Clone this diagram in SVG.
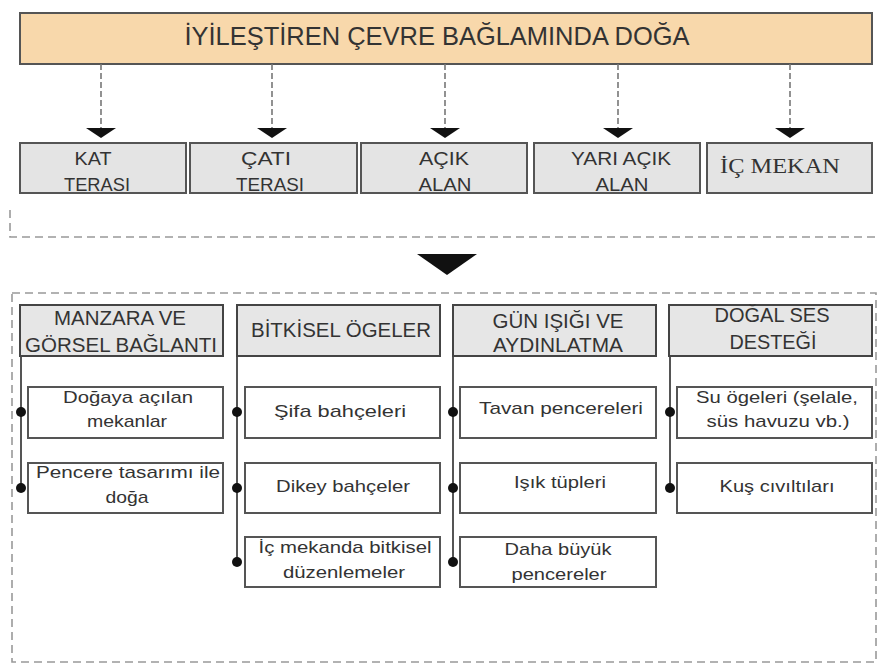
<svg xmlns="http://www.w3.org/2000/svg" width="878" height="666" viewBox="0 0 878 666">
<defs>
<style>
text{font-family:"Liberation Sans",Arial,sans-serif;fill:#333;text-anchor:middle}
.title{font-size:25px}
.cat{font-size:18px}
.hd{font-size:20px}
.ch{font-size:17px}
.serif{font-family:"Liberation Serif","Times New Roman",serif;font-size:22px}
.catbox{fill:#e4e4e4;stroke:#555;stroke-width:2}
.hdbox{fill:#e6e6e6;stroke:#444;stroke-width:2}
.chbox{fill:#fff;stroke:#555;stroke-width:2}
.dash{fill:none;stroke:#777;stroke-width:1.6;stroke-dasharray:6 3}
.frame{fill:none;stroke:#999;stroke-width:1.6;stroke-dasharray:8 5}
.vl{stroke:#555;stroke-width:2}
.dot{fill:#111}
.ah{fill:#111}
</style>
</defs>
<rect width="878" height="666" fill="#fff"/>

<g id="frames">
<path class="frame" d="M10,210 V237 H878"/>
<rect class="frame" x="12" y="293" width="864" height="369"/>
</g>

<g id="title">
<rect x="20" y="13" width="852" height="51" fill="#f8d8ab" stroke="#555" stroke-width="2"/>
<text class="title" x="437" y="45" textLength="505" lengthAdjust="spacingAndGlyphs">İYİLEŞTİREN ÇEVRE BAĞLAMINDA DOĞA</text>
</g>

<g id="connectors">
<line class="dash" x1="101" y1="64" x2="101" y2="129"/>
<line class="dash" x1="272" y1="64" x2="272" y2="129"/>
<line class="dash" x1="445" y1="64" x2="445" y2="129"/>
<line class="dash" x1="618" y1="64" x2="618" y2="129"/>
<line class="dash" x1="790" y1="64" x2="790" y2="129"/>
<polygon class="ah" points="86,128 116,128 101,138"/>
<polygon class="ah" points="257,128 287,128 272,138"/>
<polygon class="ah" points="430,128 460,128 445,138"/>
<polygon class="ah" points="603,128 633,128 618,138"/>
<polygon class="ah" points="775,128 805,128 790,138"/>
<polygon class="ah" points="417,254 477,254 447,275"/>
<line class="vl" x1="21" y1="356" x2="21" y2="488"/>
<line class="vl" x1="237" y1="356" x2="237" y2="562"/>
<line class="vl" x1="453" y1="356" x2="453" y2="562"/>
<line class="vl" x1="670" y1="356" x2="670" y2="488"/>
<circle class="dot" cx="21" cy="412" r="5"/>
<circle class="dot" cx="21" cy="488" r="5"/>
<circle class="dot" cx="237" cy="412" r="5"/>
<circle class="dot" cx="237" cy="488" r="5"/>
<circle class="dot" cx="237" cy="562" r="5"/>
<circle class="dot" cx="453" cy="412" r="5"/>
<circle class="dot" cx="453" cy="488" r="5"/>
<circle class="dot" cx="453" cy="562" r="5"/>
<circle class="dot" cx="670" cy="412" r="5"/>
<circle class="dot" cx="670" cy="488" r="5"/>
</g>

<g id="kat-terasi">
<rect class="catbox" x="20" y="143" width="166" height="50"/>
<text class="cat" x="93" y="165" textLength="37" lengthAdjust="spacingAndGlyphs">KAT</text>
<text class="cat" x="97" y="191" textLength="66" lengthAdjust="spacingAndGlyphs">TERASI</text>
</g>
<g id="cati-terasi">
<rect class="catbox" x="190" y="143" width="167" height="50"/>
<text class="cat" x="266" y="165" textLength="50" lengthAdjust="spacingAndGlyphs">ÇATI</text>
<text class="cat" x="270" y="191" textLength="68" lengthAdjust="spacingAndGlyphs">TERASI</text>
</g>
<g id="acik-alan">
<rect class="catbox" x="361" y="143" width="166" height="50"/>
<text class="cat" x="444" y="165" textLength="50" lengthAdjust="spacingAndGlyphs">AÇIK</text>
<text class="cat" x="445" y="191" textLength="53" lengthAdjust="spacingAndGlyphs">ALAN</text>
</g>
<g id="yari-acik-alan">
<rect class="catbox" x="534" y="143" width="166" height="50"/>
<text class="cat" x="621" y="165" textLength="100" lengthAdjust="spacingAndGlyphs">YARI AÇIK</text>
<text class="cat" x="622" y="191" textLength="53" lengthAdjust="spacingAndGlyphs">ALAN</text>
</g>
<g id="ic-mekan">
<rect class="catbox" x="707" y="143" width="165" height="50"/>
<text class="serif" x="780" y="173" textLength="120" lengthAdjust="spacingAndGlyphs">İÇ MEKAN</text>
</g>

<g id="manzara">
<rect class="hdbox" x="20" y="305" width="203" height="51"/>
<text class="hd" x="120" y="325" textLength="132" lengthAdjust="spacingAndGlyphs">MANZARA VE</text>
<text class="hd" x="121" y="352" textLength="192" lengthAdjust="spacingAndGlyphs">GÖRSEL BAĞLANTI</text>
</g>
<g id="bitkisel">
<rect class="hdbox" x="237" y="305" width="203" height="51"/>
<text class="hd" x="341" y="337" textLength="180" lengthAdjust="spacingAndGlyphs">BİTKİSEL ÖGELER</text>
</g>
<g id="gunisigi">
<rect class="hdbox" x="453" y="305" width="203" height="51"/>
<text class="hd" x="558" y="328" textLength="131" lengthAdjust="spacingAndGlyphs">GÜN IŞIĞI VE</text>
<text class="hd" x="558" y="352" textLength="130" lengthAdjust="spacingAndGlyphs">AYDINLATMA</text>
</g>
<g id="dogal-ses">
<rect class="hdbox" x="669" y="305" width="203" height="51"/>
<text class="hd" x="772" y="322" textLength="115" lengthAdjust="spacingAndGlyphs">DOĞAL SES</text>
<text class="hd" x="773" y="349" textLength="87" lengthAdjust="spacingAndGlyphs">DESTEĞİ</text>
</g>

<g id="dogaya-acilan">
<rect class="chbox" x="28" y="387" width="195" height="51"/>
<text class="ch" x="128" y="403" textLength="130" lengthAdjust="spacingAndGlyphs">Doğaya açılan</text>
<text class="ch" x="127" y="427" textLength="80" lengthAdjust="spacingAndGlyphs">mekanlar</text>
</g>
<g id="pencere-tasarimi">
<rect class="chbox" x="28" y="463" width="195" height="50"/>
<text class="ch" x="128" y="478" textLength="184" lengthAdjust="spacingAndGlyphs">Pencere tasarımı ile</text>
<text class="ch" x="127" y="503" textLength="43" lengthAdjust="spacingAndGlyphs">doğa</text>
</g>
<g id="sifa">
<rect class="chbox" x="245" y="387" width="195" height="51"/>
<text class="ch" x="340" y="417" textLength="132" lengthAdjust="spacingAndGlyphs">Şifa bahçeleri</text>
</g>
<g id="dikey">
<rect class="chbox" x="245" y="463" width="195" height="50"/>
<text class="ch" x="343" y="492" textLength="134" lengthAdjust="spacingAndGlyphs">Dikey bahçeler</text>
</g>
<g id="ic-mekanda">
<rect class="chbox" x="245" y="537" width="195" height="50"/>
<text class="ch" x="345" y="553" textLength="173" lengthAdjust="spacingAndGlyphs">İç mekanda bitkisel</text>
<text class="ch" x="344" y="578" textLength="122" lengthAdjust="spacingAndGlyphs">düzenlemeler</text>
</g>
<g id="tavan">
<rect class="chbox" x="460" y="387" width="196" height="51"/>
<text class="ch" x="561" y="414" textLength="164" lengthAdjust="spacingAndGlyphs">Tavan pencereleri</text>
</g>
<g id="isik-tupleri">
<rect class="chbox" x="460" y="463" width="196" height="50"/>
<text class="ch" x="560" y="488" textLength="92" lengthAdjust="spacingAndGlyphs">Işık tüpleri</text>
</g>
<g id="daha-buyuk">
<rect class="chbox" x="460" y="537" width="196" height="50"/>
<text class="ch" x="558" y="555" textLength="107" lengthAdjust="spacingAndGlyphs">Daha büyük</text>
<text class="ch" x="559" y="580" textLength="95" lengthAdjust="spacingAndGlyphs">pencereler</text>
</g>
<g id="su-ogeleri">
<rect class="chbox" x="677" y="387" width="195" height="51"/>
<text class="ch" x="777" y="403" textLength="162" lengthAdjust="spacingAndGlyphs">Su ögeleri (şelale,</text>
<text class="ch" x="778" y="427" textLength="143" lengthAdjust="spacingAndGlyphs">süs havuzu vb.)</text>
</g>
<g id="kus">
<rect class="chbox" x="677" y="463" width="195" height="50"/>
<text class="ch" x="777" y="492" textLength="115" lengthAdjust="spacingAndGlyphs">Kuş cıvıltıları</text>
</g>
</svg>
